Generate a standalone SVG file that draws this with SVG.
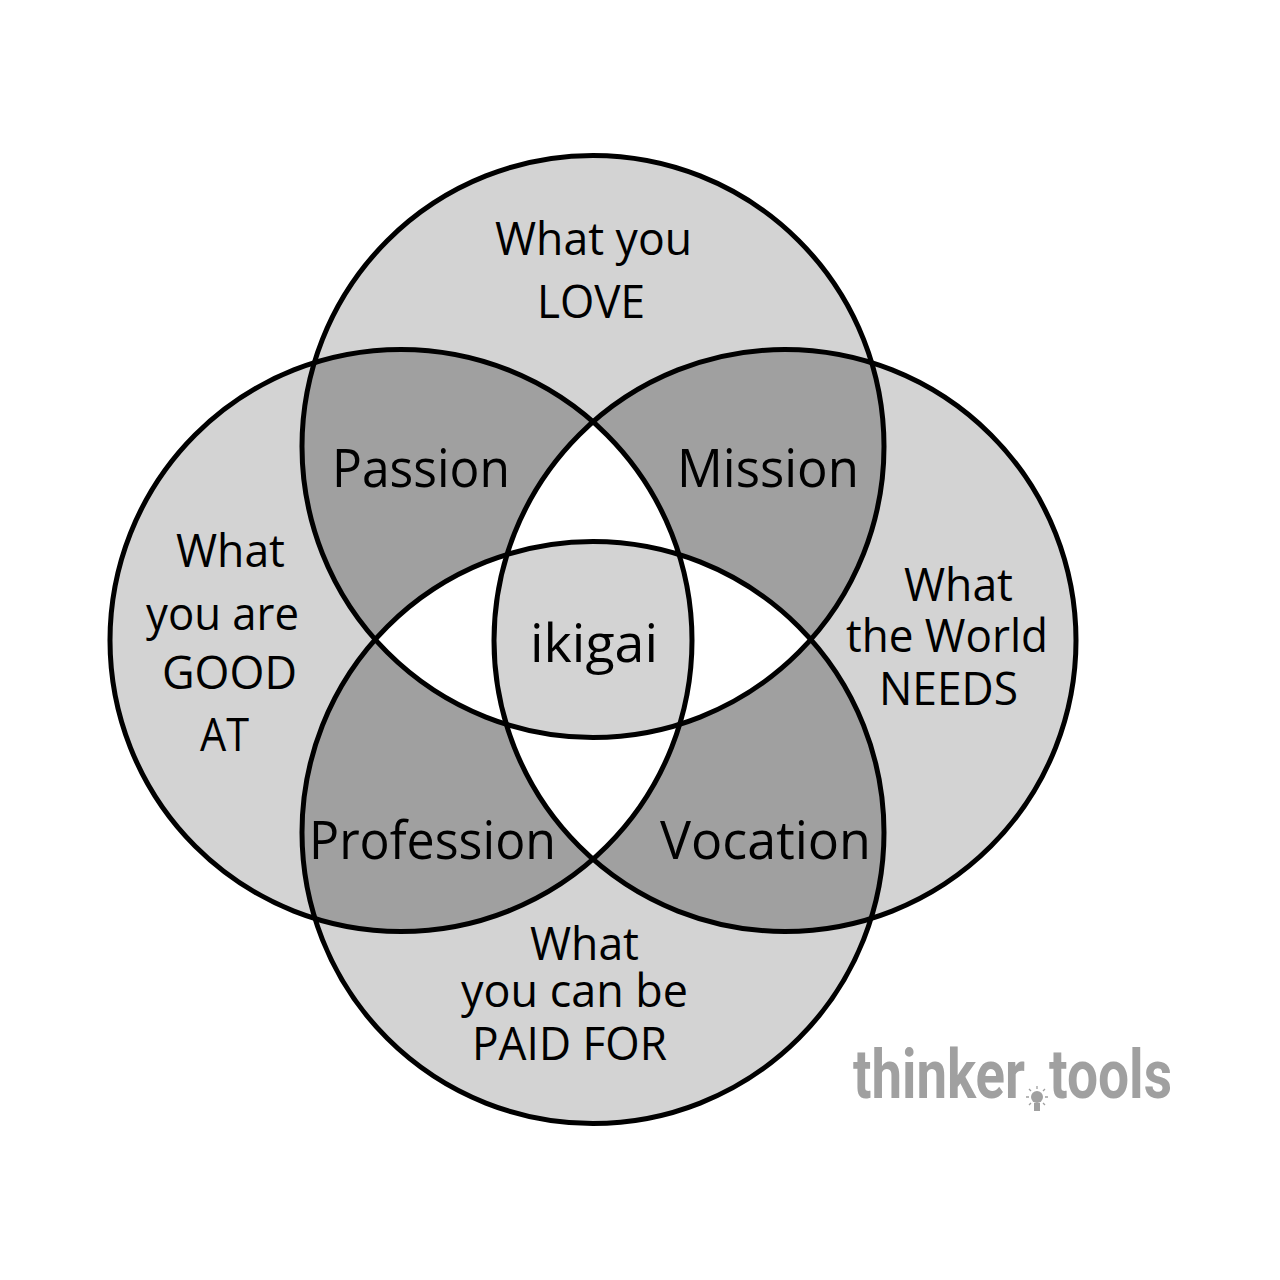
<svg xmlns="http://www.w3.org/2000/svg" width="1280" height="1280" viewBox="0 0 1280 1280">
<style>
.t{font-family:"Open Sans","Noto Sans",sans-serif;fill:#000}
.s{font-size:46px}
.b{font-size:53px}
.l{fill:#d3d3d3}.d{fill:#a0a0a0}.w{fill:#fff}
.o{fill:none;stroke:#000;stroke-width:5}
.logo{font-family:"Roboto",sans-serif;font-weight:700;font-size:69px;fill:#a0a0a0}
</style>
<defs>
<circle id="T" cx="593" cy="446.5" r="291"/>
<circle id="L" cx="401" cy="640.5" r="291"/>
<circle id="R" cx="785" cy="640.5" r="291"/>
<circle id="B" cx="593" cy="832.5" r="291"/>
<clipPath id="cT"><use href="#T"/></clipPath>
<clipPath id="cL"><use href="#L"/></clipPath>
<clipPath id="cR"><use href="#R"/></clipPath>
<clipPath id="cB"><use href="#B"/></clipPath>
</defs>
<rect width="1280" height="1280" fill="#fff"/>
<g id="fills">
<g class="l"><use href="#T"/><use href="#L"/><use href="#R"/><use href="#B"/></g>
<g class="d">
<g clip-path="url(#cT)"><use href="#L"/><use href="#R"/></g>
<g clip-path="url(#cB)"><use href="#L"/><use href="#R"/></g>
</g>
<g class="w">
<g clip-path="url(#cT)"><g clip-path="url(#cL)"><use href="#R"/></g></g>
<g clip-path="url(#cB)"><g clip-path="url(#cL)"><use href="#R"/></g></g>
<g clip-path="url(#cT)"><g clip-path="url(#cB)"><use href="#L"/><use href="#R"/></g></g>
</g>
<g class="l" clip-path="url(#cT)"><g clip-path="url(#cB)"><g clip-path="url(#cL)"><use href="#R"/></g></g></g>
</g>
<g id="connectors"></g>
<g id="love"><use href="#T" class="o"/></g>
<g id="good"><use href="#L" class="o"/></g>
<g id="needs"><use href="#R" class="o"/></g>
<g id="paid"><use href="#B" class="o"/></g>
<g id="love-label" class="t s">
<text x="495" y="255" textLength="197" lengthAdjust="spacingAndGlyphs">What you</text>
<text x="537" y="318" textLength="108" lengthAdjust="spacingAndGlyphs">LOVE</text>
</g>
<g id="passion" class="t b"><text x="332" y="487" textLength="178" lengthAdjust="spacingAndGlyphs">Passion</text></g>
<g id="mission" class="t b"><text x="677" y="487" textLength="182" lengthAdjust="spacingAndGlyphs">Mission</text></g>
<g id="good-label" class="t s">
<text x="176" y="567" textLength="109" lengthAdjust="spacingAndGlyphs">What</text>
<text x="146" y="630" textLength="153" lengthAdjust="spacingAndGlyphs">you are</text>
<text x="162" y="689" textLength="135" lengthAdjust="spacingAndGlyphs">GOOD</text>
<text x="200" y="751" textLength="49" lengthAdjust="spacingAndGlyphs">AT</text>
</g>
<g id="ikigai" class="t b"><text x="530" y="662" textLength="128" lengthAdjust="spacingAndGlyphs">ikigai</text></g>
<g id="needs-label" class="t s">
<text x="904" y="601" textLength="109" lengthAdjust="spacingAndGlyphs">What</text>
<text x="846" y="652" textLength="202" lengthAdjust="spacingAndGlyphs">the World</text>
<text x="879" y="705" textLength="139" lengthAdjust="spacingAndGlyphs">NEEDS</text>
</g>
<g id="profession" class="t b"><text x="309" y="859" textLength="247" lengthAdjust="spacingAndGlyphs">Profession</text></g>
<g id="vocation" class="t b"><text x="660" y="859" textLength="211" lengthAdjust="spacingAndGlyphs">Vocation</text></g>
<g id="paid-label" class="t s">
<text x="530" y="960" textLength="109" lengthAdjust="spacingAndGlyphs">What</text>
<text x="461" y="1007" textLength="227" lengthAdjust="spacingAndGlyphs">you can be</text>
<text x="472" y="1060" textLength="195" lengthAdjust="spacingAndGlyphs">PAID FOR</text>
</g>
<g id="logo">
<text class="logo" x="853" y="1098" textLength="172" lengthAdjust="spacingAndGlyphs">thinker</text>
<text class="logo" x="1049" y="1098" textLength="123" lengthAdjust="spacingAndGlyphs">tools</text>
<g fill="#a0a0a0" stroke="none">
<circle cx="1037" cy="1097" r="6"/>
<rect x="1034" y="1103" width="6" height="8"/>
</g>
<path d="M1037 1086v3M1026 1097h3M1045 1097h3M1029 1089l2 2M1045 1089l-2 2M1029 1105l2-2M1045 1105l-2-2" stroke="#a0a0a0" stroke-width="1.3" fill="none"/>
</g>
</svg>
